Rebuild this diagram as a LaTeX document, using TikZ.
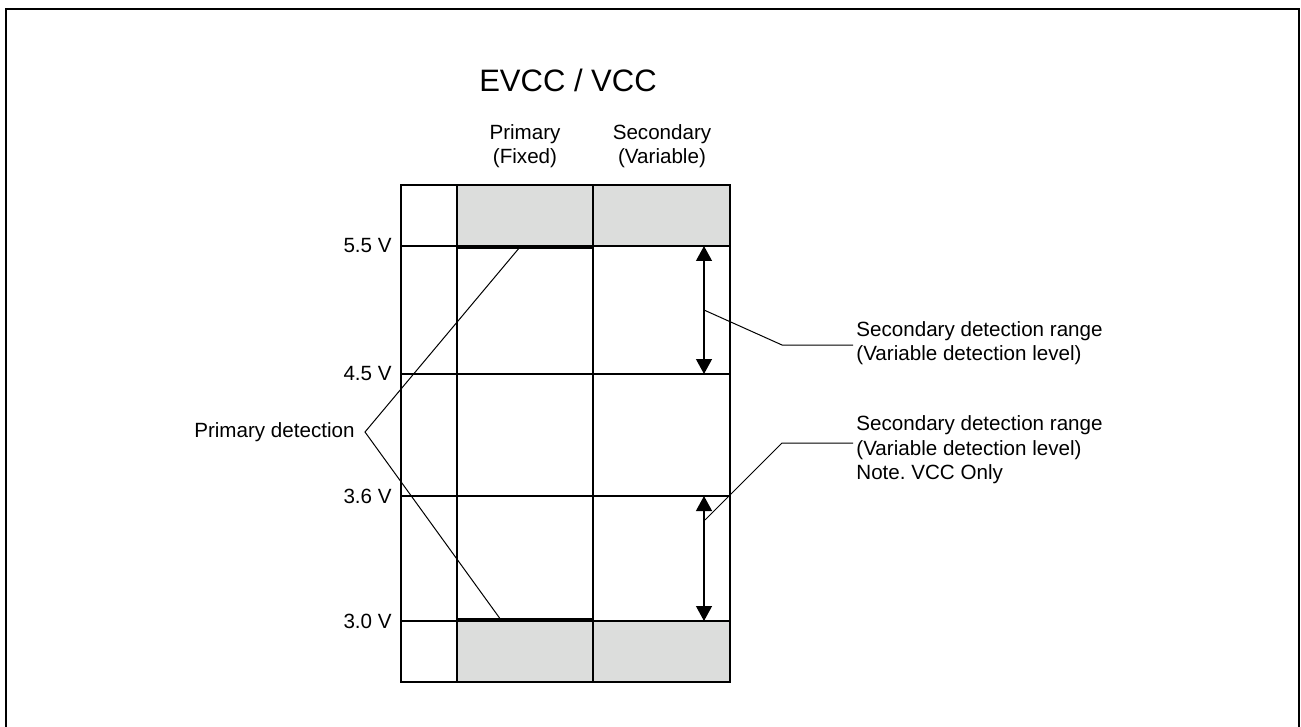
\documentclass[tikz,border=0pt]{standalone}
\usepackage{fontspec}
\setmainfont{Liberation Sans}
\usetikzlibrary{arrows.meta}
\definecolor{bandgray}{RGB}{220,221,220}
\frenchspacing

\begin{document}
\begin{tikzpicture}[x=0.5pt,y=-0.5pt,
  grid/.style={line width=1pt},
  leader/.style={line width=0.5pt},
  rangearrow/.style={line width=0.6pt,{Triangle[length=7.5pt,width=8pt]}-{Triangle[length=7.5pt,width=8pt]}},
  lbl/.style={inner sep=0pt,font=\fontsize{10.3}{12.2}\selectfont},
  volt/.style={lbl,anchor=east}]
\useasboundingbox (0,0) rectangle (1301,727);
% frame, open at the bottom
\draw[line width=1pt] (6,740) -- (6,9) -- (1299,9) -- (1299,740);
% shaded bands
\fill[bandgray] (457,185) rectangle (730,246);
\fill[bandgray] (457,621) rectangle (730,682);
% grid
\draw[grid] (401,185) rectangle (730,682);
\draw[grid] (457,185) -- (457,682);
\draw[grid] (593,185) -- (593,682);
\draw[grid] (401,246) -- (730,246);
\draw[grid] (401,374) -- (730,374);
\draw[grid] (401,496) -- (730,496);
\draw[grid] (401,621) -- (730,621);
% fixed levels
\draw[line width=2pt] (457,247) -- (593,247);
\draw[line width=2pt] (457,620) -- (593,620);
\coordinate (fixtop) at (520,247);
\coordinate (fixbot) at (501,620);
% titles
\node[lbl,font=\fontsize{15.5}{18}\selectfont] (title) at (568,80) {EVCC / VCC};
\node[lbl,align=center] (colpri) at (525,146) {Primary\\(Fixed)};
\node[lbl,align=center] (colsec) at (662,146) {Secondary\\(Variable)};
% voltage levels
\node[volt] (v55) at (392,246) {5.5 V};
\node[volt] (v45) at (392,374) {4.5 V};
\node[volt] (v36) at (392,496) {3.6 V};
\node[volt] (v30) at (392,621) {3.0 V};
% secondary ranges
\coordinate (rangeAtop) at (704,246);
\coordinate (rangeAbot) at (704,374);
\coordinate (rangeBtop) at (704,496);
\coordinate (rangeBbot) at (704,621);
\draw[rangearrow] (rangeAtop) -- (rangeAbot);
\draw[rangearrow] (rangeBtop) -- (rangeBbot);
% callouts
\node[lbl,anchor=east] (pridet) at (355,432) {Primary detection};
\coordinate (priapex) at (365,432);
\draw[leader] (fixtop) -- (priapex) -- (fixbot);
\node[lbl,anchor=west,align=left] (secA) at (856,343) {Secondary detection range\\(Variable detection level)};
\node[lbl,anchor=west,align=left] (secB) at (856,450) {Secondary detection range\\(Variable detection level)\\Note. VCC Only};
\coordinate (kinkA) at (782,345);
\coordinate (kinkB) at (782,443);
\draw[leader] (704,310) -- (kinkA) -- (853,345);
\draw[leader] (705,520) -- (kinkB) -- (853,443);
\end{tikzpicture}
\end{document}
